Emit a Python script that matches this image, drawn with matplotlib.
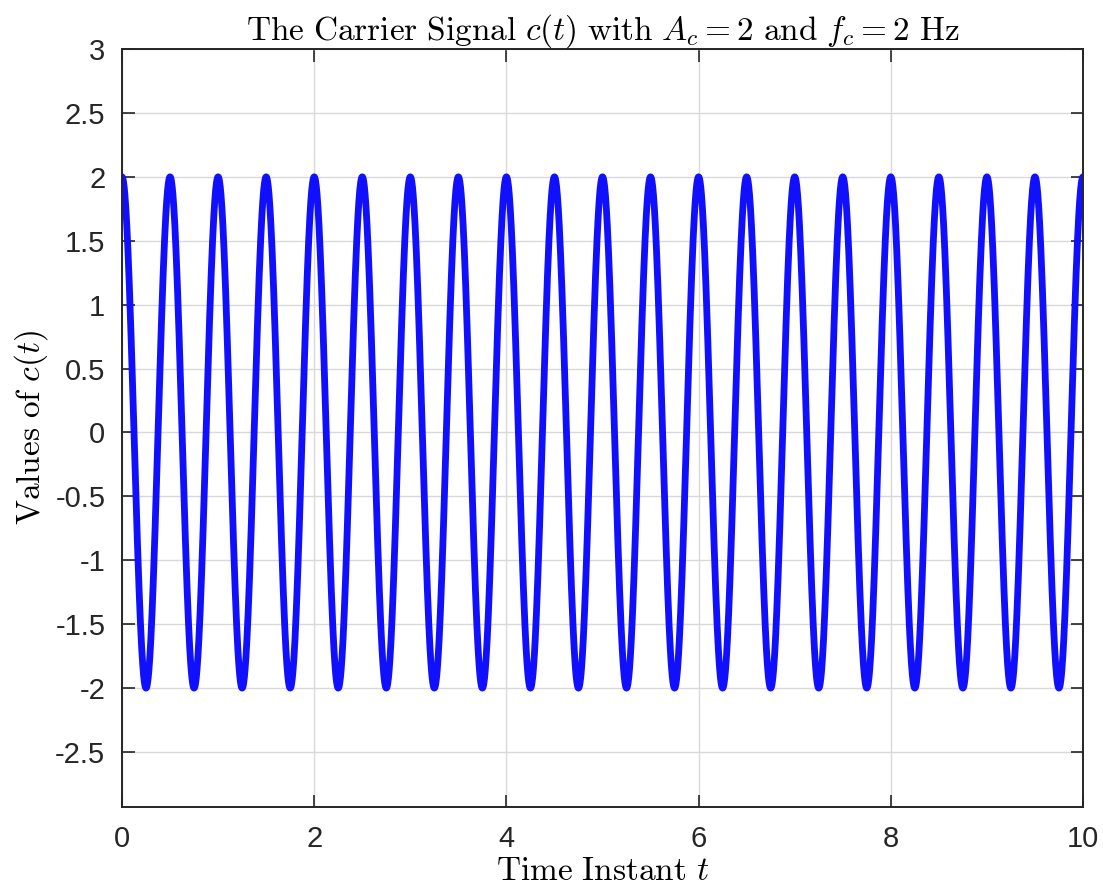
import numpy as np
import matplotlib.pyplot as plt

# carrier parameters
Ac = 2
fc = 2
t_start, t_stop, n_samples = 0, 10, 4001

xticks = [0, 2, 4, 6, 8, 10]
yticks = [-2.5, -2, -1.5, -1, -0.5, 0, 0.5, 1, 1.5, 2, 2.5, 3]
ytick_labels = ['-2.5', '-2', '-1.5', '-1', '-0.5', '0', '0.5', '1', '1.5', '2', '2.5', '3']

t = np.linspace(t_start, t_stop, n_samples)
c = Ac * np.cos(2 * np.pi * fc * t)

plt.rcParams['mathtext.fontset'] = 'cm'
plt.rcParams['font.family'] = ['Liberation Sans', 'DejaVu Sans']

fig = plt.figure(figsize=(11.03, 8.90), dpi=100)
ax = fig.add_axes([122/1103, 1 - 807/890, (1083-122)/1103, (807-49)/890])

ax.plot(t, c, color='#1010ff', lw=4.9, solid_capstyle='round')

ax.set_xlim(0, 10)
ax.set_ylim(-2.93, 3)
ax.set_xticks(xticks)
ax.set_yticks(yticks)
ax.set_yticklabels(ytick_labels)
ax.grid(True, color='#d9d9d9', lw=1.0)
ax.set_axisbelow(True)

ax.tick_params(direction='in', length=9, width=1.2, labelsize=21, colors='#262626',
               top=True, right=True, pad=12)
ax.tick_params(axis='x', pad=13)
for s in ax.spines.values():
    s.set_color('#262626')
    s.set_linewidth(1.4)

ax.set_title(r'$\mathrm{The\ Carrier\ Signal\ }c(t)\mathrm{\ with\ }A_c=2\mathrm{\ and\ }f_c=2\mathrm{\ Hz}$',
             fontsize=24, pad=7)
ax.set_xlabel(r'$\mathrm{Time\ Instant\ }t$', fontsize=24, labelpad=2)
ax.set_ylabel(r'$\mathrm{Values\ of\ }c(t)$', fontsize=24, labelpad=4)

fig.savefig('out.png', dpi=100)
